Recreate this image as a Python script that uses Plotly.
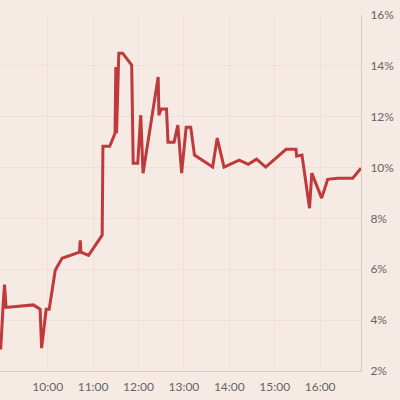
import plotly.graph_objects as go
import pandas as pd

# intraday readings (date is arbitrary, only the clock time matters)
times = [
    "08:57", "08:58", "09:01", "09:03", "09:05", "09:41", "09:50", "09:52",
    "09:58", "10:02", "10:10", "10:19", "10:42", "10:43", "10:44", "10:54",
    "11:12", "11:13", "11:22", "11:29", "11:30", "11:31", "11:34", "11:39",
    "11:51", "11:53", "11:59", "12:03", "12:06", "12:26", "12:27", "12:30",
    "12:37", "12:39", "12:47", "12:52", "12:57", "13:03", "13:09", "13:14",
    "13:38", "13:44", "13:53", "14:13", "14:25", "14:36", "14:48", "15:15",
    "15:28", "15:29", "15:36", "15:46", "15:49", "16:02", "16:10", "16:23",
    "16:43", "16:54",
]
rates = [
    2.9, 2.9, 4.55, 5.4, 4.5, 4.6, 4.43, 2.9,
    4.43, 4.43, 5.96, 6.43, 6.67, 7.14, 6.67, 6.55,
    7.34, 10.84, 10.84, 11.35, 13.95, 11.35, 14.5, 14.5,
    14.03, 10.17, 10.17, 12.06, 9.78, 13.56, 12.06, 12.3,
    12.3, 11.0, 11.0, 11.67, 9.78, 11.59, 11.59, 10.49,
    10.02, 11.16, 10.02, 10.29, 10.13, 10.33, 10.02, 10.72,
    10.72, 10.45, 10.49, 8.4, 9.78, 8.8, 9.54, 9.58,
    9.58, 9.98,
]
y_ticks = [2, 4, 6, 8, 10, 12, 14, 16]
x_ticks = ["10:00", "11:00", "12:00", "13:00", "14:00", "15:00", "16:00"]

day = "2020-01-01 "
x = pd.to_datetime([day + t for t in times])
xt = pd.to_datetime([day + t for t in x_ticks])

bg = "#F5EAE4"
grid = "#F0E0D7"
axis_line = "#D9CAC4"
font_color = "#666666"

fig = go.Figure()
fig.add_trace(go.Scatter(
    x=x, y=rates,
    mode="lines",
    line=dict(color="#C0393B", width=3),
    showlegend=False,
    hoverinfo="x+y",
))

fig.update_layout(
    width=400, height=400,
    margin=dict(l=0, r=39, t=15, b=29, autoexpand=False),
    paper_bgcolor=bg,
    plot_bgcolor=bg,
    font=dict(family="Lato, sans-serif", size=12, color=font_color),
    xaxis=dict(
        tickvals=xt, ticktext=x_ticks,
        showgrid=True, gridcolor=grid, gridwidth=1,
        zeroline=False,
        showline=True, linecolor=axis_line, linewidth=1,
        ticks="", ticklabelstandoff=5,
        range=[x[0], x[-1]],
        automargin=False,
    ),
    yaxis=dict(
        side="right",
        range=[2, 16],
        tickvals=y_ticks,
        ticktext=[f"{v}%" for v in y_ticks],
        showgrid=True, gridcolor=grid, gridwidth=1,
        zeroline=False,
        showline=True, linecolor=axis_line, linewidth=1,
        ticks="", ticklabelstandoff=6,
        automargin=False,
    ),
)

# drop the browser's default page margin so the chart fills the window
fig.write_html(
    "out.html",
    config={"displayModeBar": False},
    post_script="document.body.style.margin = '0';",
)
